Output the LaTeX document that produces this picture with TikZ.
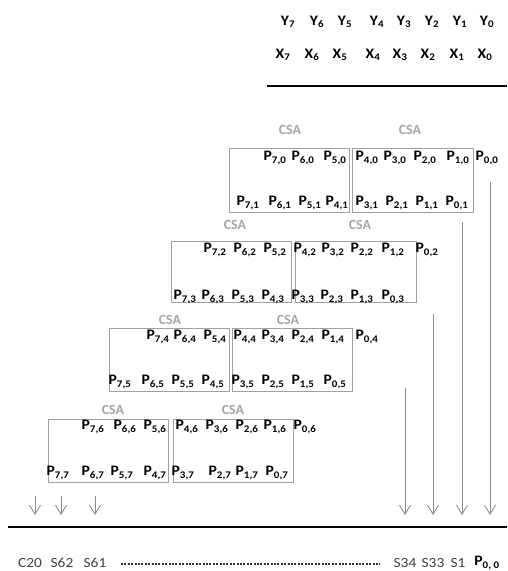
\documentclass[tikz,border=0pt]{standalone}
\usepackage{fontspec}
\setmainfont{Carlito}
\newfontfamily\lblfont{Carlito}[FakeStretch=1.08]
\newfontfamily\btmfont{Carlito}[FakeStretch=1.1]
\usetikzlibrary{arrows.meta}
\definecolor{csagray}{HTML}{A6A6A6}
\definecolor{boxgray}{HTML}{A0A0A0}
\definecolor{flowgray}{HTML}{8C8C8C}
\definecolor{txtgray}{HTML}{404040}
\definecolor{dotgray}{HTML}{333333}
\newcommand\pl[2]{P\textsubscript{#1,#2}}
% one row of partial products: #1 = second index, #2 = y, #3 = x positions of P7..P0
\newcommand\prow[3]{%
  \foreach \xx [count=\k from 0] in {#3} {%
    \pgfmathtruncatemacro\ii{7-\k}%
    \node[plabel] (p\ii#1) at (\xx,#2) {\pl{\ii}{#1}};}}
\tikzset{
  plabel/.style={inner sep=0pt, font=\lblfont\bfseries\fontsize{14.5}{17}\selectfont},
  csabox/.style={draw=boxgray, line width=0.8pt, inner sep=0pt},
  csatitle/.style={inner sep=0pt, text=csagray, font=\bfseries\fontsize{14}{16}\selectfont},
  flow/.style={draw=flowgray, line width=0.9pt, -{Straight Barb[length=9pt,width=11pt,line width=0.9pt]}},
  rule/.style={line width=2.6pt, black},
  btm/.style={inner sep=0pt, text=txtgray, font=\btmfont\fontsize{14}{16}\selectfont},
}
\begin{document}
\begin{tikzpicture}[x=1pt, y=-1pt]
\useasboundingbox (0,0) rectangle (507,571);

% operands
\foreach \xx [count=\k from 0] in {288,317,345,377,404,432,460,487} {%
  \pgfmathtruncatemacro\ii{7-\k}%
  \node[plabel] (y\ii) at (\xx,22) {Y\textsubscript{\ii}};}
\foreach \xx [count=\k from 0] in {283,312,340,373,400,428,457,485} {%
  \pgfmathtruncatemacro\ii{7-\k}%
  \node[plabel] (x\ii) at (\xx,55) {X\textsubscript{\ii}};}
\coordinate (topL) at (267,86);
\coordinate (topR) at (507,86);
\draw[rule] (topL) -- (topR);

% carry-save adder stages
\node[csabox, minimum width=120pt, minimum height=64pt] (c1a) at (289,180) {};
\node[csabox, minimum width=121pt, minimum height=64pt] (c1b) at (412.5,180) {};
\node[csatitle] (t1a) at (290,130) {CSA};
\node[csatitle] (t1b) at (410,130) {CSA};
\prow{0}{158}{275,303,335,367,395,425,458,487}
\prow{1}{203}{248,280,310,337,367,397,427,457}

\node[csabox, minimum width=120pt, minimum height=61pt] (c2a) at (231,271.5) {};
\node[csabox, minimum width=121pt, minimum height=61pt] (c2b) at (355.5,271.5) {};
\node[csatitle] (t2a) at (235,225) {CSA};
\node[csatitle] (t2b) at (360,225) {CSA};
\prow{2}{250}{215,245,275,305,333,362,393,427}
\prow{3}{297}{185,213,243,273,303,332,362,393}

\node[csabox, minimum width=120pt, minimum height=63pt] (c3a) at (169,359.5) {};
\node[csabox, minimum width=120pt, minimum height=63pt] (c3b) at (292,359.5) {};
\node[csatitle] (t3a) at (170,320) {CSA};
\node[csatitle] (t3b) at (288,320) {CSA};
\prow{4}{337}{158,185,215,245,273,303,333,367}
\prow{5}{382}{120,153,183,213,243,273,303,335}

\node[csabox, minimum width=120pt, minimum height=63pt] (c4a) at (108,450.5) {};
\node[csabox, minimum width=120pt, minimum height=63pt] (c4b) at (233,450.5) {};
\node[csatitle] (t4a) at (113,410) {CSA};
\node[csatitle] (t4b) at (233,410) {CSA};
\prow{6}{427}{93,125,155,187,217,247,275,305}
\prow{7}{473}{58,93,122,155,183,220,247,277}

% outputs falling to the result line
\foreach \nm/\xx/\ys in {a/35/496, b/61/496, c/95/496, d/405/388, e/433/314, f/462/222, g/490/182} {
  \coordinate (s\nm) at (\xx,\ys);
  \coordinate (e\nm) at (\xx,515);
  \draw[flow] (s\nm) -- (e\nm);
}
\coordinate (botL) at (8,527);
\coordinate (botR) at (507,527);
\draw[rule] (botL) -- (botR);

% result bits
\node[btm] (c20) at (30,563) {C20};
\node[btm] (s62) at (62,563) {S62};
\node[btm] (s61) at (95,563) {S61};
\node[btm] (s34) at (405,563) {S34};
\node[btm] (s33) at (433,563) {S33};
\node[btm] (s1) at (458,563) {S1};
\node[plabel] (r00) at (487,563) {P\textsubscript{0, 0}};
\coordinate (dotL) at (121,564);
\coordinate (dotR) at (380,564);
\draw[dotgray, line width=2.6pt, dash pattern=on 2pt off 1.4pt] (dotL) -- (dotR);
\end{tikzpicture}
\end{document}
